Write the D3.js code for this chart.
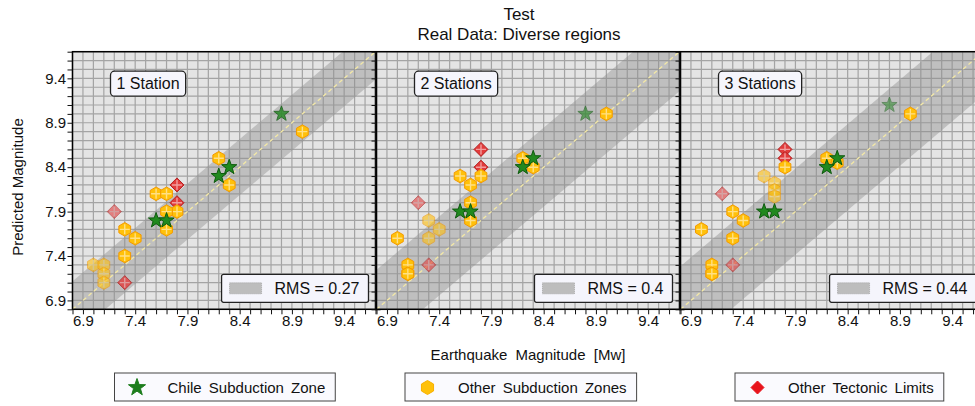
<!DOCTYPE html>
<html>
<head>
<meta charset="utf-8">
<script src="https://cdn.jsdelivr.net/npm/d3@7"></script>
<style>
  body { margin: 0; background: #fff; }
  svg { display: block; font-family: "Liberation Sans", Arial, sans-serif; }
</style>
</head>
<body>
<div id="chart"></div>
<script>
// ---- data ----
var panelLabels = ["1 Station", "2 Stations", "3 Stations"];
var rmsValues = [0.27, 0.4, 0.44];
var tickLabels = [6.9, 7.4, 7.9, 8.4, 8.9, 9.4];
var legendLabels = ["Chile Subduction Zone", "Other Subduction Zones", "Other Tectonic Limits"];

// Chile subduction zone (observed Mw, predicted per station count)
var chileObs = [8.8, 8.3, 8.2, 7.6, 7.7];
var chilePred = [
  [9.0, 8.4, 8.3, 7.8, 7.8],
  [9.0, 8.5, 8.4, 7.9, 7.9],
  [9.1, 8.5, 8.4, 7.9, 7.9]];
var chileWeight = [
  [0.8, 1, 1, 1, 1],
  [0.6, 1, 1, 1, 1],
  [0.5, 1, 1, 1, 1]];

// other subduction zones
var subdObs = [9.0, 8.2, 8.3, 7.8, 7.6, 7.7, 7.7, 7.7, 7.3, 7.4, 7.3, 7.0, 7.1, 7.1, 7.1];
var subdPred = [
  [8.8, 8.5, 8.2, 7.9, 8.1, 8.1, 7.9, 7.7, 7.7, 7.6, 7.4, 7.3, 7.3, 7.2, 7.1],
  [9.0, 8.5, 8.4, 8.3, 8.3, 8.2, 8.0, 7.8, 7.8, 7.7, 7.6, 7.6, 7.3, 7.2, 7.2],
  [9.0, 8.5, 8.45, 8.4, 8.3, 8.22, 8.14, 8.07, 7.9, 7.8, 7.6, 7.7, 7.3, 7.2, 7.2]];
var subdWeight = [
  [1, 1, 1, 1, 1, 1, 1, 1, 1, 1, 1, 0.6, 0.6, 0.6, 0.6],
  [1, 1, 1, 1, 1, 1, 1, 1, 0.6, 0.6, 0.6, 1, 1, 1, 1],
  [1, 1, 1, 1, 0.6, 0.6, 0.6, 0.6, 1, 1, 1, 1, 1, 1, 1]];

// other tectonic limits
var tectObs = [7.8, 7.8, 7.2, 7.3];
var tectPred = [
  [8.2, 8.0, 7.9, 7.1],
  [8.6, 8.4, 8.0, 7.3],
  [8.6, 8.5, 8.1, 7.3]];
var tectWeight = [
  [1, 1, 0.6, 0.8],
  [1, 1, 0.6, 0.6],
  [1, 1, 0.6, 0.6]];

// ---- layout ----
var width = 975, height = 406;
var left0 = 72.5, pitch = 304, pw = 303;
var top0 = 51.7, ph = 257.6;

var svg = d3.select("#chart").append("svg")
  .attr("width", width)
  .attr("height", height);

var scX = d3.scaleLinear().domain([6.8, 9.7]).range([0, pw]);
var scY = d3.scaleLinear().domain([6.8, 9.7]).range([ph, 0]);
var scO = d3.scaleLinear().domain([0, 1]).range([0, 1]);
var gridVals = d3.range(68, 98).map(d => d / 10);
var isLabel = d => tickLabels.some(t => Math.abs(t - d) < 1e-6);

// marker shapes
function hexPath(r) {
  var p = d3.path();
  for (var k = 0; k < 6; k++) {
    var a = -Math.PI / 2 + k * Math.PI / 3;
    k ? p.lineTo(r * Math.cos(a), r * Math.sin(a)) : p.moveTo(r * Math.cos(a), r * Math.sin(a));
  }
  p.closePath();
  return p.toString();
}
function starPath(r) {
  var p = d3.path();
  for (var k = 0; k < 10; k++) {
    var a = -Math.PI / 2 + k * Math.PI / 5;
    var rr = k % 2 ? r * 0.4 : r;
    k ? p.lineTo(rr * Math.cos(a), rr * Math.sin(a)) : p.moveTo(rr * Math.cos(a), rr * Math.sin(a));
  }
  p.closePath();
  return p.toString();
}
function diamondPath(r) {
  return `M0,${-r}L${r},0L0,${r}L${-r},0Z`;
}
var styles = {
  chile: { d: starPath(8), fill: "#21891f", stroke: "#0d5a0d", hatch: 0 },
  subd: { d: hexPath(6.8), fill: "#ffc10a", stroke: "#f49a00", hatch: 5 },
  tect: { d: diamondPath(7), fill: "#e23b3b", stroke: "#b32020", hatch: 5 }
};

function drawMarkers(g, obs, pred, weight, st) {
  var m = g.append("g")
    .selectAll("g")
    .data(obs.map((o, i) => ({ x: o, y: pred[i], w: weight[i] })))
    .enter()
    .append("g")
    .attr("transform", d => `translate(${scX(d.x)},${scY(d.y)})`)
    .attr("opacity", d => scO(d.w));
  m.append("path")
    .attr("d", st.d)
    .attr("fill", st.fill)
    .attr("stroke", st.stroke)
    .attr("stroke-width", 1);
  if (st.hatch) {
    m.append("path")
      .attr("d", `M${-st.hatch},0H${st.hatch}M0,${-st.hatch}V${st.hatch}`)
      .attr("stroke", "rgba(255,255,255,0.5)")
      .attr("stroke-width", 1.4);
  }
}

panelLabels.forEach(function (label, i) {
  var g = svg.append("g")
    .attr("transform", `translate(${left0 + i * pitch},${top0})`);

  g.append("clipPath").attr("id", "clip" + i)
    .append("rect").attr("width", pw).attr("height", ph);

  g.append("rect")
    .attr("width", pw)
    .attr("height", ph)
    .attr("fill", "#e4e4e4");

  var grid = g.append("g")
    .attr("stroke", "#a4a4a4")
    .attr("stroke-width", 1.2);
  grid.selectAll("line.v")
    .data(gridVals)
    .enter()
    .append("line")
    .attr("x1", d => scX(d)).attr("x2", d => scX(d))
    .attr("y1", 0).attr("y2", ph);
  grid.selectAll("line.h")
    .data(gridVals)
    .enter()
    .append("line")
    .attr("y1", d => scY(d)).attr("y2", d => scY(d))
    .attr("x1", 0).attr("x2", pw);

  // RMS band around the 1:1 line
  var rms = rmsValues[i];
  var band = d3.area()
    .x(d => scX(d))
    .y0(d => scY(d - rms))
    .y1(d => scY(d + rms));
  g.append("g")
    .attr("clip-path", `url(#clip${i})`)
    .attr("opacity", 0.42)
    .append("path")
    .attr("d", band([6.0, 10.5]))
    .attr("fill", "#8c8c8c")
    .attr("stroke", "#8c8c8c")
    .attr("stroke-width", 6);

  g.append("line")
    .attr("x1", scX(6.8)).attr("y1", scY(6.8))
    .attr("x2", scX(9.7)).attr("y2", scY(9.7))
    .attr("stroke", "#f4e9a6")
    .attr("stroke-width", 1.3)
    .attr("stroke-dasharray", "4,3");

  var marks = g.append("g").attr("clip-path", `url(#clip${i})`);
  drawMarkers(marks, tectObs, tectPred[i], tectWeight[i], styles.tect);
  drawMarkers(marks, subdObs, subdPred[i], subdWeight[i], styles.subd);
  drawMarkers(marks, chileObs, chilePred[i], chileWeight[i], styles.chile);

  // station label
  var lb = g.append("g").attr("transform", "translate(38,19.5)");
  var lbRect = lb.append("rect")
    .attr("height", 25)
    .attr("rx", 4)
    .attr("fill", "#f5f5fc")
    .attr("stroke", "#222")
    .attr("stroke-width", 1.3);
  var lbText = lb.append("text")
    .attr("x", 6)
    .attr("y", 18)
    .attr("font-size", 16)
    .attr("fill", "#111")
    .text(label);
  lbRect.attr("width", lbText.node().getComputedTextLength() + 12);

  // RMS legend
  var rb = g.append("g");
  var rText = rb.append("text")
    .attr("y", 19.5)
    .attr("font-size", 16)
    .attr("fill", "#111")
    .text("RMS = " + rms);
  var rw = rText.node().getComputedTextLength() + 62;
  rb.attr("transform", `translate(${pw - 7 - rw},${ph - 35})`);
  rText.attr("x", 53);
  rb.insert("rect", "text")
    .attr("width", rw)
    .attr("height", 28)
    .attr("rx", 2)
    .attr("fill", "#f5f5fc")
    .attr("stroke", "#222")
    .attr("stroke-width", 1.3);
  rb.insert("rect", "text")
    .attr("x", 8).attr("y", 8.5)
    .attr("width", 32).attr("height", 11)
    .attr("fill", "#bdbdbd")
    .attr("stroke", "#a8a8a8")
    .attr("stroke-dasharray", "1,1");

  // spines
  g.append("rect")
    .attr("width", pw)
    .attr("height", ph)
    .attr("fill", "none")
    .attr("stroke", "#000")
    .attr("stroke-width", 1.5);

  // axes
  var fmt = d => isLabel(d) ? d3.format(".1f")(d) : "";
  var ax = g.append("g")
    .attr("transform", `translate(0,${ph})`)
    .call(d3.axisBottom(scX).tickValues(gridVals).tickFormat(fmt).tickSize(5).tickSizeOuter(0).tickPadding(1));
  var ayl = g.append("g")
    .call(d3.axisLeft(scY).tickValues(gridVals).tickFormat(i === 0 ? fmt : "").tickSize(5).tickSizeOuter(0).tickPadding(1.5));
  var ayr = g.append("g")
    .attr("transform", `translate(${pw},0)`)
    .call(d3.axisRight(scY).tickValues(gridVals).tickFormat("").tickSize(5).tickSizeOuter(0));
  [ax, ayl, ayr].forEach(a => {
    a.select(".domain").remove();
    a.selectAll("text")
      .attr("font-size", 15)
      .attr("font-family", "Liberation Sans, Arial, sans-serif")
      .attr("fill", "#111");
    a.selectAll("line").attr("stroke", "#111");
  });
});

// titles
svg.append("text")
  .attr("x", 519).attr("y", 20)
  .attr("text-anchor", "middle")
  .attr("font-size", 17)
  .attr("fill", "#111")
  .text("Test");
svg.append("text")
  .attr("x", 519).attr("y", 40)
  .attr("text-anchor", "middle")
  .attr("font-size", 17)
  .attr("fill", "#111")
  .text("Real Data: Diverse regions");

svg.append("text")
  .attr("x", 528).attr("y", 360)
  .attr("text-anchor", "middle")
  .attr("font-size", 15)
  .attr("word-spacing", 4)
  .attr("fill", "#111")
  .text("Earthquake Magnitude [Mw]");

svg.append("text")
  .attr("transform", "translate(23,187) rotate(-90)")
  .attr("text-anchor", "middle")
  .attr("font-size", 15)
  .attr("fill", "#111")
  .text("Predicted Magnitude");

// bottom legend
var legendX = [114.5, 405, 735];
var legendStyles = [
  { d: starPath(9), fill: "#1d7d1d", stroke: "#1d7d1d" },
  { d: hexPath(7), fill: "#ffc10a", stroke: "#f8b000" },
  { d: diamondPath(6.5), fill: "#e8141c", stroke: "#e8141c" }];
legendLabels.forEach(function (label, i) {
  var lg = svg.append("g").attr("transform", `translate(${legendX[i]},373)`);
  var r = lg.append("rect")
    .attr("height", 28)
    .attr("fill", "#fafafe")
    .attr("stroke", "#444")
    .attr("stroke-width", 1);
  lg.append("path")
    .attr("transform", "translate(22.5,14.5)")
    .attr("d", legendStyles[i].d)
    .attr("fill", legendStyles[i].fill)
    .attr("stroke", legendStyles[i].stroke);
  var t = lg.append("text")
    .attr("x", 53)
    .attr("y", 19.5)
    .attr("font-size", 15)
    .attr("word-spacing", 3)
    .attr("fill", "#111")
    .text(label);
  r.attr("width", t.node().getComputedTextLength() + 63);
});
</script>
</body>
</html>
